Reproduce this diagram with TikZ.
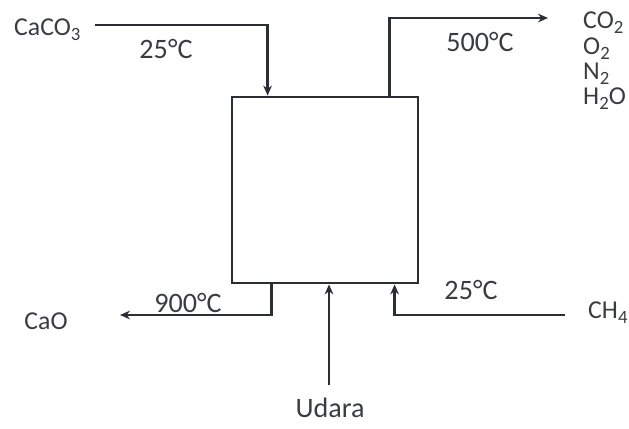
\documentclass[tikz,border=0pt]{standalone}
\usepackage{fontspec}
\setmainfont{Carlito}
\usepackage{tikz}
\usetikzlibrary{arrows.meta,positioning,calc}

\definecolor{inkline}{HTML}{2B2E36}
\definecolor{inktext}{HTML}{3A3C42}
\newcommand{\chemsub}[1]{\raisebox{-0.4ex}{\fontsize{16}{16}\selectfont #1}}

\begin{document}
\begin{tikzpicture}[
  x=0.03cm, y=-0.03cm,
  unit/.style={draw=inkline, line width=2.4pt, minimum width=5.58cm, minimum height=5.58cm, inner sep=0pt},
  stream/.style={-{Stealth[length=3mm, width=2.6mm]}, line width=2.4pt, color=inkline},
  chem/.style={font=\fontsize{22}{21.6}\selectfont, text=inktext, inner sep=0pt},
  temp/.style={font=\fontsize{24}{28}\selectfont, text=inktext, inner sep=0pt},
]
\useasboundingbox (0,0) rectangle (629,428);

% reactor
\node[unit] (reactor) at (325,190) {};

% free ends of the streams
\coordinate (feedin) at (95,25);
\coordinate (gasout) at (548,18);
\coordinate (solidout) at (120,315);
\coordinate (airin) at (329,385);
\coordinate (fuelin) at (565,315);

% labels
\node[chem, anchor=west] (caco3) at (14,30) {CaCO\chemsub{3}};
\node[temp] (tfeed) at (166,49) {25°C};
\node[temp] (tgas) at (480,42) {500°C};
\node[chem, anchor=north west, align=left] (gases) at (583,12)
  {CO\chemsub{2}\\O\chemsub{2}\\N\chemsub{2}\\H\chemsub{2}O};
\node[temp] (tsolid) at (188,303) {900°C};
\node[chem] (cao) at (46,321) {CaO};
\node[temp] (tfuel) at (471,290) {25°C};
\node[chem, anchor=west] (ch4) at (588,313) {CH\chemsub{4}};
\node[temp] (udara) at (330,408) {Udara};

% streams
\draw[stream] (feedin) -| ($(reactor.north west)+(37,0)$);
\draw[stream] ($(reactor.north west)+(159,0)$) |- (gasout);
\draw[stream] ($(reactor.south west)+(41,0)$) |- (solidout);
\draw[stream] (airin) -- (airin |- reactor.south);
\draw[stream] (fuelin) -| ($(reactor.south west)+(164,0)$);

\end{tikzpicture}
\end{document}
